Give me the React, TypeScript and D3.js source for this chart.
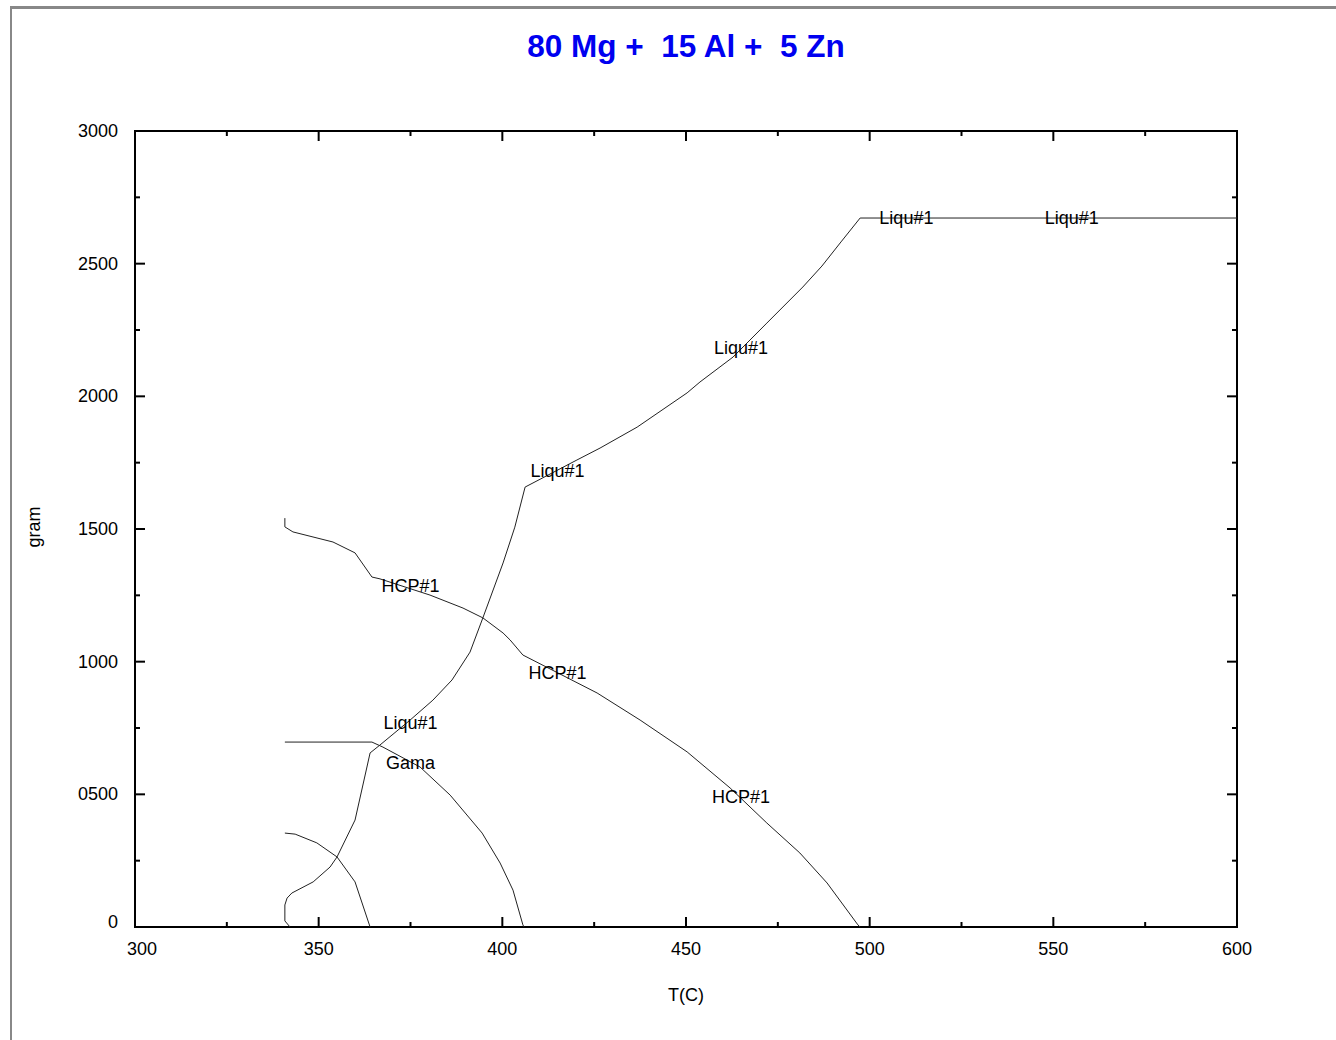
import React from "react"
import * as d3 from "d3"

// equilibrium amounts (gram) vs temperature (C)
const liquT = [342.2, 340.8, 340.8, 341.4, 342.7, 348.5, 353.1, 355.0, 359.9, 364.0, 366.7, 374.9, 381.1, 386.3, 391.2, 394.7, 400.2, 403.4, 406.2, 420.3, 426.6, 436.7, 450.3, 453.8, 462.8, 472.0, 481.8, 487.0, 492.2, 497.4, 600]
const liquG = [0, 23, 83, 109, 128, 170, 226, 264, 403, 656, 686, 780, 855, 931, 1036, 1165, 1372, 1507, 1658, 1760, 1805, 1884, 2013, 2054, 2148, 2276, 2412, 2491, 2582, 2672, 2672]

const hcpT = [340.8, 340.8, 343.0, 353.9, 359.9, 364.5, 366.7, 380.3, 389.3, 394.7, 400.2, 402.1, 405.6, 415.2, 425.8, 437.5, 450.3, 462.0, 472.0, 481.0, 488.4, 496.8, 497.4]
const hcpG = [1541, 1508, 1489, 1451, 1410, 1319, 1312, 1251, 1202, 1165, 1108, 1082, 1025, 957, 882, 780, 660, 524, 392, 279, 166, 8, 0]

const gamaT = [340.8, 364.5, 367.5, 377.6, 385.8, 394.5, 399.4, 402.9, 405.6, 405.9]
const gamaG = [697, 697, 678, 603, 497, 354, 241, 139, 8, 0]

const smallT = [340.8, 343.6, 349.5, 355.0, 359.9, 364.0]
const smallG = [354, 350, 317, 264, 170, 0]

const labelNames = ["Liqu#1", "Liqu#1", "Liqu#1", "Liqu#1", "Liqu#1", "HCP#1", "HCP#1", "HCP#1", "Gama"]
const labelT = [375, 415, 465, 510, 555, 375, 415, 465, 375]
const labelG = [770, 1718, 2182, 2672, 2672, 1285, 957, 490, 618]

const xTicks = [300, 350, 400, 450, 500, 550, 600]
const yTicks = [0, 500, 1000, 1500, 2000, 2500, 3000]

const W = 1336
const H = 1040
const left = 135, right = 1237, top = 131, bottom = 927
const font = "'Liberation Sans', Arial, sans-serif"

export default function App() {
    const x = d3.scaleLinear().domain([300, 600]).range([left, right])
    const y = d3.scaleLinear().domain([0, 3000]).range([bottom, top])
    const line = d3.line<[number, number]>()
        .x(d => x(d[0]))
        .y(d => y(d[1]))

    const curves = [
        d3.zip(liquT, liquG),
        d3.zip(hcpT, hcpG),
        d3.zip(gamaT, gamaG),
        d3.zip(smallT, smallG),
    ] as [number, number][][]

    const xMinor = d3.range(300, 601, 25)
    const yMinor = d3.range(0, 3001, 250)
    const yFmt = (v: number) => (v === 0 ? "0" : d3.format("04d")(v))

    return (
        <svg width={W} height={H} style={{ position: "absolute", left: 0, top: 0, background: "#fff" }}>
            {/* outer frame */}
            <line x1={10} x2={W} y1={7.5} y2={7.5} stroke="#888" strokeWidth={3} />
            <line x1={11} x2={11} y1={6} y2={H} stroke="#888" strokeWidth={2} />

            <text x={(left + right) / 2} y={57} textAnchor="middle" fontFamily={font}
                fontWeight="bold" fontSize={31.5} fill="#0000f0" style={{ whiteSpace: "pre" }}>
                {"80 Mg +  15 Al +  5 Zn"}
            </text>

            {/* ticks on all four sides, pointing in */}
            {xMinor.map(v => {
                const len = v % 50 === 0 ? 10 : 5
                return (
                    <g key={"xt" + v} stroke="#000" strokeWidth={2}>
                        <line x1={x(v)} x2={x(v)} y1={bottom} y2={bottom - len} />
                        <line x1={x(v)} x2={x(v)} y1={top} y2={top + len} />
                    </g>
                )
            })}
            {yMinor.map(v => {
                const len = v % 500 === 0 ? 10 : 5
                return (
                    <g key={"yt" + v} stroke="#000" strokeWidth={2}>
                        <line x1={left} x2={left + len} y1={y(v)} y2={y(v)} />
                        <line x1={right} x2={right - len} y1={y(v)} y2={y(v)} />
                    </g>
                )
            })}
            <rect x={left} y={top} width={right - left} height={bottom - top} fill="none" stroke="#000" strokeWidth={2} />

            {xTicks.map(v => (
                <text key={"xl" + v} x={Math.max(x(v), left + 7)} y={955} textAnchor="middle"
                    fontFamily={font} fontSize={18} fill="#000">{v}</text>
            ))}
            {yTicks.map(v => (
                <text key={"yl" + v} x={118} y={Math.min(y(v), bottom - 5) + 6} textAnchor="end"
                    fontFamily={font} fontSize={18} fill="#000">{yFmt(v)}</text>
            ))}

            <text x={(left + right) / 2} y={1001} textAnchor="middle" fontFamily={font} fontSize={18}>T(C)</text>
            <text transform={`translate(40,527) rotate(-90)`} textAnchor="middle" fontFamily={font} fontSize={18}>gram</text>

            {curves.map((c, i) => (
                <path key={"c" + i} d={line(c) || ""} fill="none" stroke="#222" strokeWidth={1} />
            ))}

            {labelNames.map((n, i) => (
                <text key={"lb" + i} x={x(labelT[i])} y={y(labelG[i]) + 6} textAnchor="middle"
                    fontFamily={font} fontSize={18} fill="#000">{n}</text>
            ))}
        </svg>
    )
}
